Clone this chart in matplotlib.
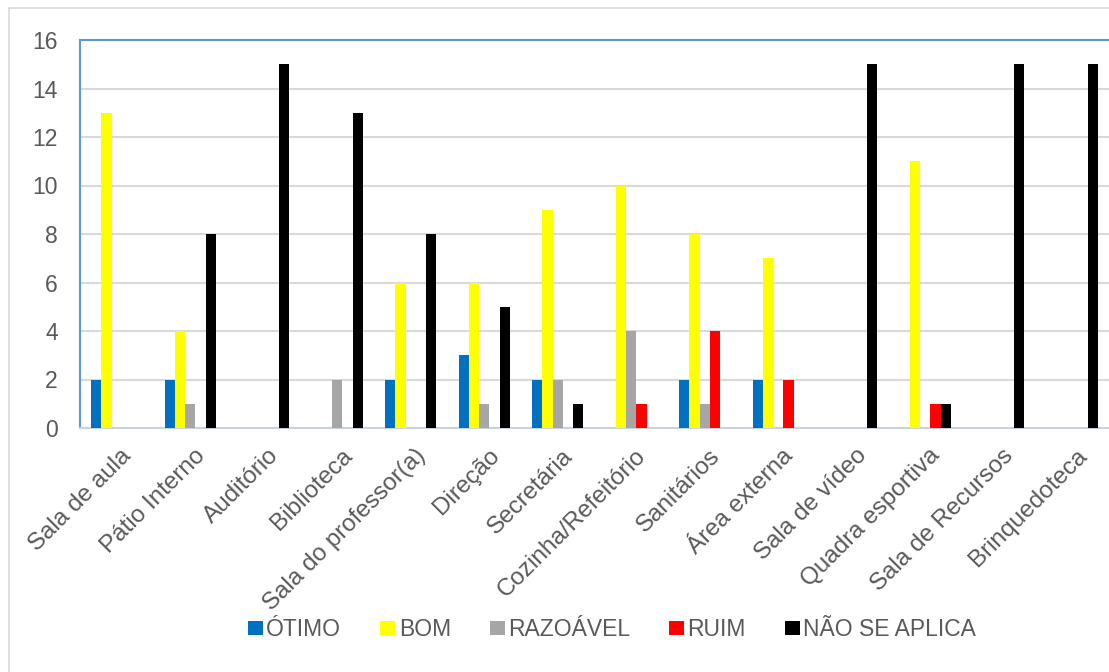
import matplotlib.pyplot as plt
from matplotlib.patches import Rectangle
import numpy as np

plt.rcParams['font.family'] = ['Liberation Sans', 'DejaVu Sans']

categories = ['Sala de aula', 'Pátio Interno', 'Auditório', 'Biblioteca',
              'Sala do professor(a)', 'Direção', 'Secretária', 'Cozinha/Refeitório',
              'Sanitários', 'Área externa', 'Sala de vídeo', 'Quadra esportiva',
              'Sala de Recursos', 'Brinquedoteca']

otimo = [2, 2, 0, 0, 2, 3, 2, 0, 2, 2, 0, 0, 0, 0]
bom = [13, 4, 0, 0, 6, 6, 9, 10, 8, 7, 0, 11, 0, 0]
razoavel = [0, 1, 0, 2, 0, 1, 2, 4, 1, 0, 0, 0, 0, 0]
ruim = [0, 0, 0, 0, 0, 0, 0, 1, 4, 2, 0, 1, 0, 0]
nao_aplica = [0, 8, 15, 13, 8, 5, 1, 0, 0, 0, 15, 1, 15, 15]

series = [('ÓTIMO', otimo, '#0070c0'),
          ('BOM', bom, '#ffff00'),
          ('RAZOÁVEL', razoavel, '#a6a6a6'),
          ('RUIM', ruim, '#ff0000'),
          ('NÃO SE APLICA', nao_aplica, '#000000')]

text_color = '#595959'
fs = 16.5

fig = plt.figure(figsize=(11.09, 6.72), dpi=100)
ax = fig.add_axes([80 / 1109, 1 - 428 / 672, 1 - 80 / 1109, (428 - 40) / 672])

# outer chart border
fig.patches.append(Rectangle((9 / 1109, -0.01), 1.1, 1 - 8 / 672 + 0.01,
                             transform=fig.transFigure, fill=False,
                             edgecolor='#d9d9d9', linewidth=1.2))

x = np.arange(len(categories))
w = 0.14
for k, (name, vals, color) in enumerate(series):
    ax.bar(x + (k - 2) * w, vals, w, color=color, label=name, zorder=3)

ax.set_xlim(-0.5, len(categories) - 0.5)
ax.set_ylim(0, 16)
ax.set_yticks(range(0, 17, 2))
ax.yaxis.grid(True, color='#d9d9d9', linewidth=1.5, zorder=0)
ax.set_axisbelow(True)

ax.set_xticks(x + 0.05)
ax.set_xticklabels(categories, rotation=45, ha='right', rotation_mode='anchor',
                   fontsize=17.5, color=text_color)
ax.tick_params(axis='x', length=0, pad=12)
ax.tick_params(axis='y', length=0, pad=16, labelsize=fs, labelcolor=text_color)

for side in ['left', 'top']:
    ax.spines[side].set_color('#5b9bd5')
    ax.spines[side].set_linewidth(1.5)
ax.spines['bottom'].set_color('#c9d3e0')
ax.spines['bottom'].set_linewidth(1.5)
ax.spines['right'].set_visible(False)

ax.legend(loc='center', bbox_to_anchor=(612 / 1109, 1 - 630 / 672),
          bbox_transform=fig.transFigure, ncol=5, frameon=False,
          fontsize=fs, handlelength=0.65, handleheight=0.55, handletextpad=0.15,
          columnspacing=1.7, labelcolor=text_color)

fig.savefig('out.png', dpi=100)
